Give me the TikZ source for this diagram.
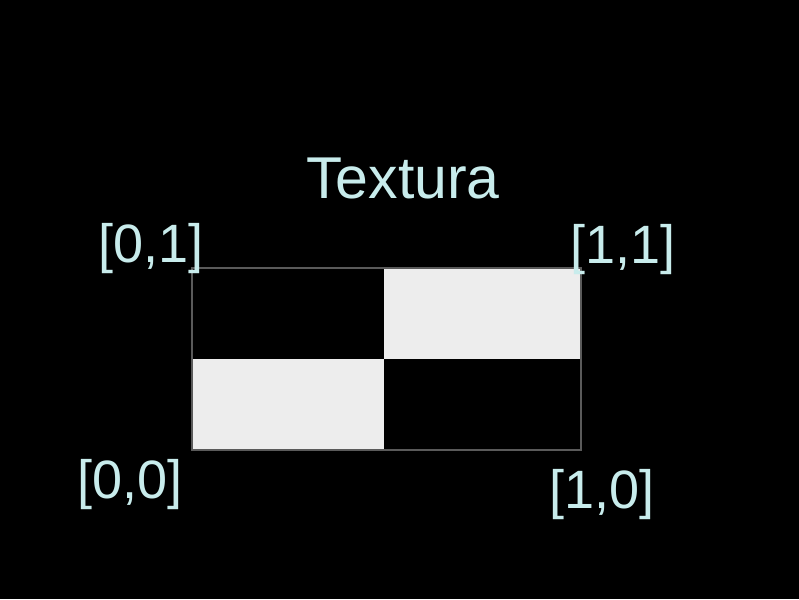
\documentclass[tikz,border=0pt]{standalone}
\usepackage{fontspec}
\setmainfont{Liberation Sans}
\definecolor{labelcol}{RGB}{200,236,236}
\definecolor{cellwhite}{RGB}{237,237,237}
\definecolor{edgegray}{RGB}{90,90,90}
\begin{document}
\begin{tikzpicture}[x=1pt,y=-1pt,
  lbl/.style={text=labelcol,inner sep=0pt,anchor=base,font=\fontsize{54}{60}\selectfont},
  ttl/.style={text=labelcol,inner sep=0pt,anchor=base,font=\fontsize{59}{66}\selectfont}]
\fill[black] (0,0) rectangle (799,599);
\useasboundingbox (0,0) rectangle (799,599);
% checkerboard
\fill[cellwhite] (384,268) rectangle (581,359);
\fill[cellwhite] (192,359) rectangle (384,450);
\draw[edgegray,line width=1.2pt] (192,268) rectangle (581,450);
\node[ttl] (title) at (403,198) {Textura};
\node[lbl] (tl) at (151,262) {[0,1]};
\node[lbl] (tr) at (623,263) {[1,1]};
\node[lbl] (bl) at (130,498) {[0,0]};
\node[lbl] (br) at (602,508) {[1,0]};
\end{tikzpicture}
\end{document}
